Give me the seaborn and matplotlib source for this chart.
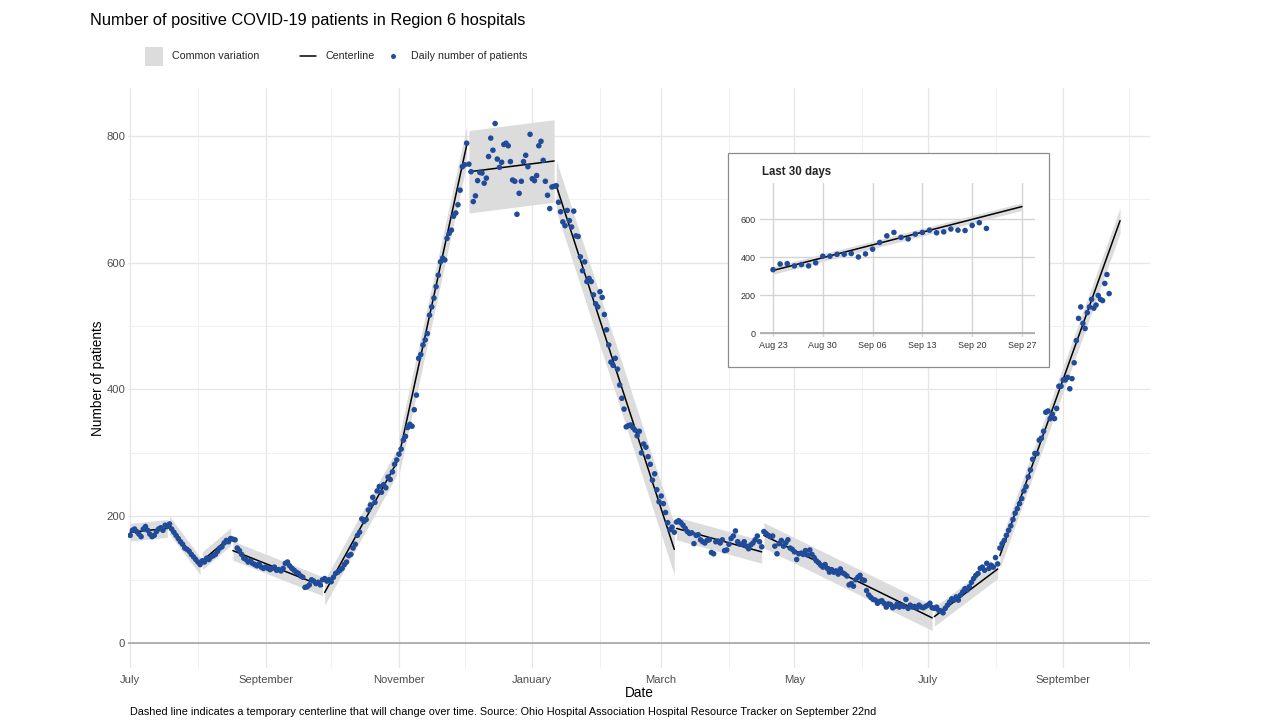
import numpy as np
import pandas as pd
import matplotlib
matplotlib.use("Agg")
import matplotlib.pyplot as plt
import matplotlib.dates as mdates
from matplotlib.patches import Rectangle
from matplotlib.lines import Line2D
import seaborn as sns

# ---------------- text ----------------
title = "Number of positive COVID-19 patients in Region 6 hospitals"
caption = ("Dashed line indicates a temporary centerline that will change over time. "
           "Source: Ohio Hospital Association Hospital Resource Tracker on September 22nd")
legend_labels = ["Common variation", "Centerline", "Daily number of patients"]
x_label = "Date"
y_label = "Number of patients"
inset_title = "Last 30 days"

# ---------------- daily values (Jul 1 2020 - Sep 22 2021) ----------------
jul_2020 = [170, 178, 180, 176, 172, 168, 180, 184, 178, 172, 168, 170, 176, 180, 182, 178, 186, 184,
            188, 180, 175, 170, 165, 160, 156, 150, 148, 145, 140, 136, 132]
aug_2020 = [128, 124, 130, 128, 134, 132, 136, 138, 140, 145, 150, 152, 158, 162, 160, 165,
            164, 163, 150, 146, 140, 134, 132, 128, 130, 126, 124, 122, 125, 120, 118]
sep_2020 = [120, 118, 116, 118, 120, 115, 116, 114, 118, 126, 128, 122, 118, 115, 112, 110, 106, 104,
            88, 89, 92, 100, 98, 94, 96, 92, 100, 102, 98, 100]
oct_2020 = [97, 104, 110, 112, 115, 118, 124, 128, 138, 140, 150, 156, 170, 175, 196, 192, 195, 210,
            218, 230, 222, 240, 247, 238, 250, 245, 262, 258, 270, 282, 289]
nov_2020 = [298, 306, 320, 326, 340, 345, 342, 368, 391, 449, 455, 470, 478, 488, 517, 530, 544, 562,
            580, 601, 607, 604, 638, 646, 651, 673, 678, 691, 714, 751]
dec_2020 = [754, 788, 755, 743, 696, 705, 729, 742, 741, 725, 733, 767, 796, 777, 819, 763, 750, 758,
            786, 788, 784, 759, 730, 728, 676, 709, 728, 759, 769, 751, 802]
jan_2021 = [732, 729, 737, 784, 791, 761, 728, 706, 685, 719, 720, 721, 695, 680, 664, 658, 682, 666,
            656, 681, 642, 641, 609, 587, 601, 570, 575, 570, 549, 535, 530]
feb_2021 = [554, 545, 518, 494, 470, 443, 438, 449, 432, 407, 386, 369, 341, 343, 344, 340, 336, 327,
            334, 300, 314, 309, 294, 282, 257, 267, 242, 223]
mar_2021 = [232, 220, 206, 190, 179, 183, 175, 191, 193, 190, 186, 181, 176, 173, 174, 157, 170, 171,
            163, 160, 158, 162, 163, 143, 141, 160, 161, 158, 163, 146, 147]
apr_2021 = [156, 165, 169, 177, 160, 156, 156, 160, 153, 149, 155, 158, 163, 169, 160, 152, 176, 173,
            170, 168, 169, 153, 141, 157, 162, 153, 158, 163, 150, 148]
may_2021 = [144, 132, 141, 142, 140, 146, 139, 147, 140, 135, 130, 127, 123, 120, 124, 118, 112, 116,
            112, 114, 109, 117, 111, 109, 106, 92, 94, 90, 100, 104, 107]
jun_2021 = [100, 99, 83, 76, 72, 69, 68, 63, 66, 67, 63, 57, 62, 61, 56, 58, 62, 57, 60, 58, 69, 55,
            60, 57, 58, 56, 60, 57, 56, 58]
jul_2021 = [60, 63, 56, 55, 57, 52, 51, 48, 55, 60, 65, 70, 68, 73, 68, 76, 81, 86, 84, 89, 96, 102,
            107, 110, 118, 120, 115, 126, 118, 123, 120]
aug_2021 = [135, 125, 150, 157, 162, 170, 178, 185, 195, 205, 212, 220, 228, 240, 247, 262, 273, 290,
            299, 299, 320, 323, 334, 364, 366, 354, 361, 354, 370, 405, 405]
sep_2021 = [415, 415, 419, 401, 417, 442, 477, 512, 530, 504, 496, 521, 530, 542, 528, 533, 548, 542,
            540, 567, 581, 551]

first_day = "2020-07-01"

# ---------------- control-chart segments ----------------
seg_start = ["2020-07-01", "2020-07-19", "2020-08-03", "2020-08-17", "2020-09-28", "2020-11-01",
             "2020-12-03", "2021-01-12", "2021-03-08", "2021-04-17", "2021-07-04", "2021-08-03"]
seg_end = ["2020-07-18", "2020-08-02", "2020-08-16", "2020-09-27", "2020-10-31", "2020-12-02",
           "2021-01-11", "2021-03-07", "2021-04-16", "2021-07-03", "2021-08-02", "2021-09-27"]
center_start = [175, 186, 130, 146, 80, 295, 743, 721, 181, 170, 42, 138]
center_end = [181, 122, 168, 90, 285, 785, 760, 148, 144, 40, 117, 666]
band_half = [14, 14, 14, 15, 20, 30, 65, 40, 18, 20, 15, 20]

inset_start = "2021-08-23"
inset_end = "2021-09-27"
inset_ticks = ["2021-08-23", "2021-08-30", "2021-09-06", "2021-09-13", "2021-09-20", "2021-09-27"]
main_yticks = [0, 200, 400, 600, 800]
inset_yticks = [0, 200, 400, 600]

# ---------------- build frames ----------------
values = (jul_2020 + aug_2020 + sep_2020 + oct_2020 + nov_2020 + dec_2020 + jan_2021 + feb_2021 +
          mar_2021 + apr_2021 + may_2021 + jun_2021 + jul_2021 + aug_2021 + sep_2021)
dates = pd.date_range(first_day, periods=len(values), freq="D")
df = pd.DataFrame({"date": dates, "patients": values})

rows = []
for i, (s, e, cs, ce) in enumerate(zip(seg_start, seg_end, center_start, center_end)):
    rows.append({"seg": i, "date": pd.Timestamp(s), "center": cs})
    rows.append({"seg": i, "date": pd.Timestamp(e), "center": ce})
cl = pd.DataFrame(rows)

# ---------------- style ----------------
sns.set_theme(style="white")
plt.rcParams["font.family"] = ["Liberation Sans", "DejaVu Sans"]

POINT = "#1f4b99"
BAND = "#dcdcdc"
W, H = 1280, 722

fig = plt.figure(figsize=(12.8, 7.22), dpi=100)
fig.patch.set_facecolor("white")

def fx(px):
    return px / W

def fy(py):
    return 1 - py / H

# main axes
ax = fig.add_axes([fx(128), fy(668), fx(1150) - fx(128), fy(88) - fy(668)])
for sp in ax.spines.values():
    sp.set_visible(False)

x0 = pd.Timestamp("2020-06-30")
ax.set_xlim(x0, x0 + pd.Timedelta(days=467.7))
ax.set_ylim(-39, 875)

ax.xaxis.set_major_locator(mdates.MonthLocator(bymonth=[1, 3, 5, 7, 9, 11]))
ax.xaxis.set_minor_locator(mdates.MonthLocator(bymonth=[2, 4, 6, 8, 10, 12]))
ax.xaxis.set_major_formatter(mdates.DateFormatter("%B"))
ax.set_yticks(main_yticks)
ax.set_yticks([100, 300, 500, 700], minor=True)
ax.grid(which="major", color="#e6e6e6", lw=0.9)
ax.grid(which="minor", color="#f0f0f0", lw=0.7)
ax.set_axisbelow(True)
ax.tick_params(which="both", length=0)
ax.tick_params(axis="x", labelsize=8.1, colors="#4d4d4d", pad=5)
ax.tick_params(axis="y", labelsize=8.1, colors="#4d4d4d", pad=2)
ax.axhline(0, color="#a6a6a6", lw=1.2, zorder=1)

# bands
for s, e, cs, ce, h in zip(seg_start, seg_end, center_start, center_end, band_half):
    xs = [pd.Timestamp(s), pd.Timestamp(e)]
    ax.fill_between(xs, [cs - h, ce - h], [cs + h, ce + h], color=BAND, lw=0, zorder=1.5)

sns.lineplot(data=cl, x="date", y="center", units="seg", estimator=None,
             color="black", lw=1.1, ax=ax, zorder=2, legend=False)
sns.scatterplot(data=df, x="date", y="patients", color=POINT, s=16, edgecolor="none",
                ax=ax, zorder=3, legend=False)

ax.set_xlabel(x_label, fontsize=9.8, labelpad=1, color="black")
ax.set_ylabel(y_label, fontsize=9.8, labelpad=1, color="black")

# title, caption
fig.text(fx(90), fy(21), title, fontsize=11.8, ha="left", va="center", color="black")
fig.text(fx(130), fy(712), caption, fontsize=7.85, ha="left", va="center", color="black")

# legend (drawn in figure coordinates)
fig.patches.append(Rectangle((fx(145), fy(66)), fx(18), fy(47) - fy(66),
                             transform=fig.transFigure, facecolor=BAND, edgecolor="none"))
fig.text(fx(172), fy(56), legend_labels[0], fontsize=7.7, va="center", ha="left")
fig.lines.append(Line2D([fx(300), fx(316)], [fy(56), fy(56)], transform=fig.transFigure,
                        color="black", lw=1.1))
fig.text(fx(325), fy(56), legend_labels[1], fontsize=7.7, va="center", ha="left")
fig.lines.append(Line2D([fx(393)], [fy(56)], transform=fig.transFigure, marker="o",
                        markersize=3.6, color=POINT, markeredgewidth=0, linestyle="none"))
fig.text(fx(411), fy(56), legend_labels[2], fontsize=7.7, va="center", ha="left")

# ---------------- inset ----------------
box = Rectangle((fx(728), fy(367)), fx(1049) - fx(728), fy(153) - fy(367),
                transform=fig.transFigure, facecolor="white", edgecolor="#8c8c8c", lw=0.9, zorder=5)
fig.patches.append(box)

iax = fig.add_axes([fx(760), fy(337), fx(1035) - fx(760), fy(183) - fy(337)], zorder=6)
iax.set_facecolor("white")
for sp in iax.spines.values():
    sp.set_visible(False)
i0 = pd.Timestamp(inset_start)
i1 = pd.Timestamp(inset_end)
iax.set_xlim(i0 - pd.Timedelta(days=1.83), i1 + pd.Timedelta(days=1.83))
iax.set_ylim(-20, 790)
iax.set_xticks([pd.Timestamp(t) for t in inset_ticks])
iax.xaxis.set_major_formatter(mdates.DateFormatter("%b %d"))
iax.set_yticks(inset_yticks)
iax.grid(which="major", color="#d4d4d4", lw=1.0)
iax.set_axisbelow(True)
iax.tick_params(which="both", length=0)
iax.tick_params(axis="both", labelsize=6.5, colors="#333333", pad=3)
iax.axhline(0, color="#a6a6a6", lw=1.2, zorder=1)

last = len(seg_start) - 1
ls = pd.Timestamp(seg_start[last])
le = pd.Timestamp(seg_end[last])
slope = (center_end[last] - center_start[last]) / (le - ls).days
c_i0 = center_start[last] + slope * (i0 - ls).days
c_i1 = center_end[last]
iax.fill_between([i0, i1], [c_i0 - band_half[last], c_i1 - band_half[last]],
                 [c_i0 + band_half[last], c_i1 + band_half[last]], color=BAND, lw=0, zorder=1.5)
icl = pd.DataFrame({"date": [i0, i1], "center": [c_i0, c_i1]})
sns.lineplot(data=icl, x="date", y="center", color="black", lw=1.1, ax=iax, zorder=2, legend=False)
sub = df[df["date"] >= i0]
sns.scatterplot(data=sub, x="date", y="patients", color=POINT, s=16, edgecolor="none",
                ax=iax, zorder=3, legend=False)
iax.set_xlabel("")
iax.set_ylabel("")
fig.text(fx(762), fy(172), inset_title, fontsize=8.3, fontweight="bold", ha="left", va="center",
         zorder=7)

fig.savefig("out.png", dpi=100, facecolor="white")
